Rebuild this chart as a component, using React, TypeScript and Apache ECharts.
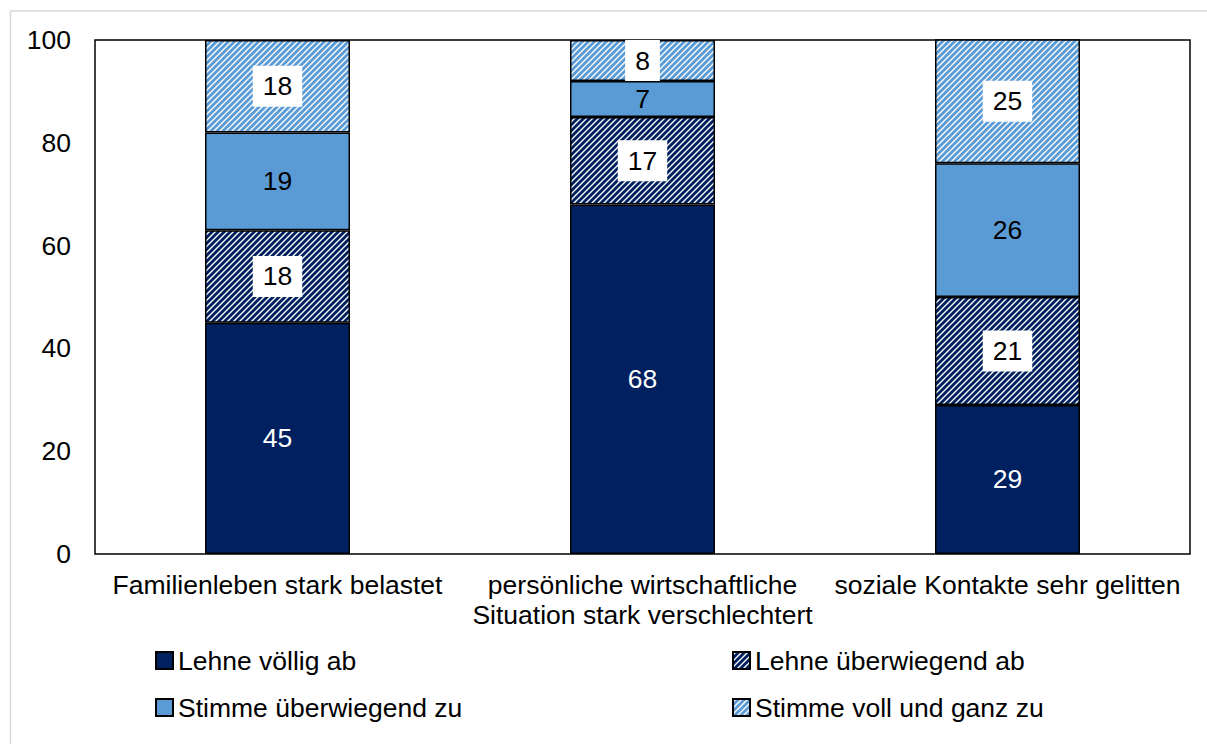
import React, { useEffect, useRef } from "react";
import * as echarts from "echarts";

const categories = [
  "Familienleben stark belastet",
  "persönliche wirtschaftliche\nSituation stark verschlechtert",
  "soziale Kontakte sehr gelitten",
];
const seriesNames = [
  "Lehne völlig ab",
  "Lehne überwiegend ab",
  "Stimme überwiegend zu",
  "Stimme voll und ganz zu",
];
const lehneVoellig = [45, 68, 29];
const lehneUeberwiegend = [18, 17, 21];
const stimmeUeberwiegend = [19, 7, 26];
const stimmeVoll = [18, 8, 25];
const yTicks = { min: 0, max: 100, interval: 20 };

const NAVY = "#002060";
const MID = "#5B9BD5";
const FONT = "'Liberation Sans', Arial, sans-serif";
const FS = 26.5;

function makeStripe(color: string) {
  const size = 6;
  const c = document.createElement("canvas");
  c.width = size;
  c.height = size;
  const ctx = c.getContext("2d")!;
  ctx.fillStyle = "#ffffff";
  ctx.fillRect(0, 0, size, size);
  ctx.strokeStyle = color;
  ctx.lineWidth = 2.9;
  ctx.beginPath();
  ctx.moveTo(-1, size + 1);
  ctx.lineTo(size + 1, -1);
  ctx.moveTo(-2, 2);
  ctx.lineTo(2, -2);
  ctx.moveTo(size - 2, size + 2);
  ctx.lineTo(size + 2, size - 2);
  ctx.stroke();
  return c;
}

export default function App() {
  const ref = useRef<HTMLDivElement>(null);
  useEffect(() => {
    if (!ref.current) return;
    const chart = echarts.init(ref.current, undefined, { renderer: "svg" });
    const navyStripe = { image: makeStripe(NAVY) as any, repeat: "repeat" as const };
    const lightStripe = { image: makeStripe(MID) as any, repeat: "repeat" as const };

    const boxedLabel = {
      show: true,
      color: "#000",
      fontSize: FS,
      fontFamily: FONT,
      backgroundColor: "#fff",
      padding: [8, 10, 6, 10],
    };
    const mk = (name: string, data: number[], color: any, label: any) => ({
      name,
      type: "bar",
      stack: "total",
      barWidth: 145,
      data,
      itemStyle: { color, borderColor: "#000", borderWidth: 1.5 },
      label,
    });

    const legendBase = {
      itemWidth: 17,
      itemHeight: 17,
      icon: "rect",
      padding: 0,
      textStyle: { fontSize: FS, color: "#000", fontFamily: FONT },
    };

    chart.setOption({
      animation: false,
      textStyle: { fontFamily: FONT },
      graphic: [
        {
          type: "rect",
          shape: { x: 10.5, y: 11, width: 1250, height: 800 },
          style: { fill: "none", stroke: "#d9d9d9", lineWidth: 1.5 },
          silent: true,
        },
      ],
      grid: {
        left: 95,
        top: 40,
        right: 17,
        bottom: 190,
        show: true,
        borderColor: "#000",
        borderWidth: 1.5,
        backgroundColor: "transparent",
      },
      xAxis: {
        type: "category",
        data: categories,
        axisLine: { show: false },
        axisTick: { show: false },
        axisLabel: {
          color: "#000",
          fontSize: FS,
          fontFamily: FONT,
          lineHeight: 30,
          margin: 16,
          interval: 0,
        },
      },
      yAxis: {
        type: "value",
        min: yTicks.min,
        max: yTicks.max,
        interval: yTicks.interval,
        axisLine: { show: false },
        axisTick: { show: false },
        splitLine: { show: false },
        axisLabel: { color: "#000", fontSize: FS, fontFamily: FONT, margin: 24 },
      },
      legend: [
        { ...legendBase, data: [seriesNames[0]], left: 155, top: 647 },
        { ...legendBase, data: [seriesNames[1]], left: 732, top: 647 },
        { ...legendBase, data: [seriesNames[2]], left: 155, top: 694 },
        { ...legendBase, data: [seriesNames[3]], left: 732, top: 694 },
      ],
      series: [
        mk(seriesNames[0], lehneVoellig, NAVY, {
          show: true,
          color: "#fff",
          fontSize: FS,
          fontFamily: FONT,
        }),
        mk(seriesNames[1], lehneUeberwiegend, navyStripe, boxedLabel),
        mk(seriesNames[2], stimmeUeberwiegend, MID, {
          show: true,
          color: "#000",
          fontSize: FS,
          fontFamily: FONT,
        }),
        mk(seriesNames[3], stimmeVoll, lightStripe, boxedLabel),
      ],
    });
    return () => chart.dispose();
  }, []);
  return (
    <div
      ref={ref}
      style={{ position: "fixed", left: 0, top: 0, width: 1207, height: 744, background: "#fff" }}
    />
  );
}
